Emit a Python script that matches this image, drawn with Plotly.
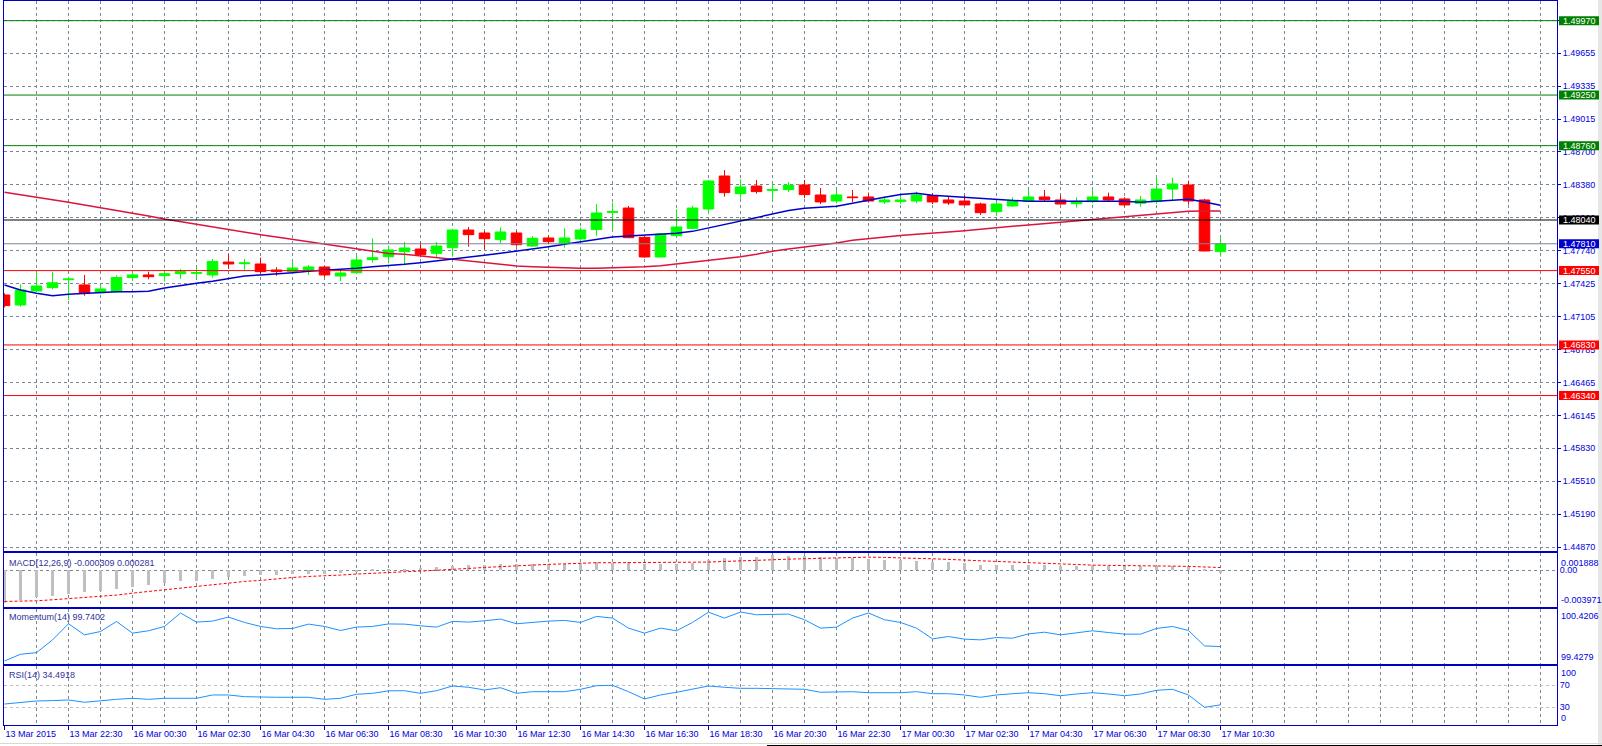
import plotly.graph_objects as go

# ---------------- data ----------------
time_labels = ["13 Mar 2015", "13 Mar 22:30", "16 Mar 00:30", "16 Mar 02:30", "16 Mar 04:30",
               "16 Mar 06:30", "16 Mar 08:30", "16 Mar 10:30", "16 Mar 12:30", "16 Mar 14:30",
               "16 Mar 16:30", "16 Mar 18:30", "16 Mar 20:30", "16 Mar 22:30", "17 Mar 00:30",
               "17 Mar 02:30", "17 Mar 04:30", "17 Mar 06:30", "17 Mar 08:30", "17 Mar 10:30"]

opens = [1.47314, 1.47217, 1.47353, 1.47385, 1.47462, 1.47411, 1.47336, 1.47346, 1.47482, 1.47508,
         1.47501, 1.47520, 1.47524, 1.47508, 1.47633, 1.47617, 1.47614, 1.47556, 1.47540, 1.47556,
         1.47585, 1.47498, 1.47530, 1.47656, 1.47685, 1.47733, 1.47759, 1.47717, 1.47772, 1.47943,
         1.47914, 1.47850, 1.47914, 1.47788, 1.47866, 1.47817, 1.47856, 1.47947, 1.48114, 1.48156,
         1.47872, 1.47682, 1.47888, 1.47959, 1.48147, 1.48466, 1.48295, 1.48369, 1.48327, 1.48334,
         1.48379, 1.48282, 1.48224, 1.48263, 1.48263, 1.48215, 1.48218, 1.48224, 1.48276, 1.48234,
         1.48224, 1.48195, 1.48121, 1.48176, 1.48221, 1.48263, 1.48234, 1.48198, 1.48218, 1.48263,
         1.48244, 1.48202, 1.48221, 1.48340, 1.48379, 1.48234, 1.47734]
highs = [1.47330, 1.47417, 1.47540, 1.47540, 1.47491, 1.47508, 1.47417, 1.47504, 1.47540, 1.47540,
         1.47556, 1.47566, 1.47582, 1.47662, 1.47711, 1.47662, 1.47675, 1.47582, 1.47637, 1.47604,
         1.47595, 1.47562, 1.47701, 1.47863, 1.47792, 1.47827, 1.47827, 1.47827, 1.47953, 1.47972,
         1.47934, 1.47969, 1.47934, 1.47885, 1.47892, 1.47959, 1.47969, 1.48195, 1.48208, 1.48176,
         1.47895, 1.47914, 1.48143, 1.48179, 1.48427, 1.48524, 1.48434, 1.48427, 1.48395, 1.48408,
         1.48428, 1.48350, 1.48331, 1.48331, 1.48305, 1.48266, 1.48273, 1.48315, 1.48299, 1.48273,
         1.48282, 1.48208, 1.48218, 1.48260, 1.48337, 1.48331, 1.48279, 1.48260, 1.48337, 1.48305,
         1.48260, 1.48273, 1.48453, 1.48450, 1.48421, 1.48244, 1.47872]
lows = [1.47194, 1.47201, 1.47346, 1.47369, 1.47265, 1.47307, 1.47330, 1.47336, 1.47449, 1.47466,
        1.47443, 1.47469, 1.47475, 1.47482, 1.47566, 1.47556, 1.47514, 1.47501, 1.47524, 1.47508,
        1.47488, 1.47449, 1.47517, 1.47627, 1.47620, 1.47614, 1.47679, 1.47675, 1.47685, 1.47782,
        1.47756, 1.47817, 1.47782, 1.47779, 1.47805, 1.47772, 1.47830, 1.47888, 1.47947, 1.47863,
        1.47675, 1.47679, 1.47879, 1.47950, 1.48105, 1.48266, 1.48247, 1.48295, 1.48234, 1.48311,
        1.48253, 1.48195, 1.48202, 1.48215, 1.48208, 1.48195, 1.48195, 1.48202, 1.48195, 1.48186,
        1.48182, 1.48089, 1.48079, 1.48166, 1.48215, 1.48221, 1.48189, 1.48160, 1.48202, 1.48224,
        1.48169, 1.48169, 1.48195, 1.48234, 1.48189, 1.47737, 1.47685]
closes = [1.47211, 1.47362, 1.47401, 1.47432, 1.47468, 1.47330, 1.47372, 1.47482, 1.47508, 1.47491,
          1.47520, 1.47540, 1.47530, 1.47637, 1.47614, 1.47624, 1.47540, 1.47540, 1.47575, 1.47585,
          1.47508, 1.47527, 1.47653, 1.47675, 1.47750, 1.47769, 1.47704, 1.47788, 1.47943, 1.47898,
          1.47859, 1.47924, 1.47801, 1.47863, 1.47830, 1.47866, 1.47943, 1.48108, 1.48121, 1.47869,
          1.47682, 1.47905, 1.47972, 1.48156, 1.48418, 1.48305, 1.48360, 1.48315, 1.48334, 1.48376,
          1.48286, 1.48215, 1.48282, 1.48257, 1.48224, 1.48234, 1.48234, 1.48282, 1.48215, 1.48205,
          1.48186, 1.48111, 1.48195, 1.48224, 1.48263, 1.48237, 1.48195, 1.48221, 1.48263, 1.48234,
          1.48186, 1.48234, 1.48340, 1.48389, 1.48224, 1.47740, 1.47810]

ma_fast = [1.47411, 1.47362, 1.47330, 1.47307, 1.47320, 1.47330, 1.47336, 1.47346, 1.47346, 1.47349,
           1.47382, 1.47408, 1.47427, 1.47446, 1.47475, 1.47498, 1.47508, 1.47517, 1.47530, 1.47543,
           1.47553, 1.47559, 1.47572, 1.47588, 1.47596, 1.47611, 1.47627, 1.47643, 1.47662, 1.47682,
           1.47698, 1.47717, 1.47737, 1.47759, 1.47782, 1.47805, 1.47830, 1.47853, 1.47875, 1.47885,
           1.47892, 1.47898, 1.47911, 1.47930, 1.47963, 1.48001, 1.48034, 1.48066, 1.48095, 1.48131,
           1.48153, 1.48160, 1.48173, 1.48202, 1.48234, 1.48260, 1.48286, 1.48299, 1.48279, 1.48270,
           1.48260, 1.48247, 1.48240, 1.48228, 1.48221, 1.48221, 1.48221, 1.48221, 1.48221, 1.48221,
           1.48221, 1.48211, 1.48221, 1.48228, 1.48240, 1.48215, 1.48182]
ma_slow = [1.48308, 1.48285, 1.48263, 1.48237, 1.48211, 1.48185, 1.48160, 1.48134, 1.48105, 1.48079,
           1.48050, 1.48024, 1.47995, 1.47969, 1.47947, 1.47924, 1.47898, 1.47876, 1.47853, 1.47830,
           1.47805, 1.47782, 1.47756, 1.47733, 1.47716, 1.47708, 1.47692, 1.47672, 1.47656, 1.47640,
           1.47624, 1.47608, 1.47595, 1.47588, 1.47582, 1.47575, 1.47572, 1.47572, 1.47575, 1.47582,
           1.47588, 1.47598, 1.47614, 1.47630, 1.47646, 1.47662, 1.47685, 1.47708, 1.47738, 1.47759,
           1.47779, 1.47795, 1.47818, 1.47843, 1.47860, 1.47872, 1.47889, 1.47902, 1.47911, 1.47924,
           1.47937, 1.47953, 1.47969, 1.47979, 1.47992, 1.48005, 1.48024, 1.48034, 1.48050, 1.48056,
           1.48073, 1.48085, 1.48102, 1.48115, 1.48124, 1.48127, 1.48127]

macd_main = [-0.00350, -0.00322, -0.00292, -0.00274, -0.00252, -0.00230, -0.00222, -0.00201, -0.00178, -0.00154,
             -0.00138, -0.00120, -0.00110, -0.00092, -0.00074, -0.00058, -0.00051, -0.00045, -0.00038, -0.00035,
             -0.00035, -0.00031, -0.00011, 0.00009, 0.00016, 0.00018, 0.00025, 0.00036, 0.00043, 0.00054,
             0.00054, 0.00072, 0.00065, 0.00072, 0.00072, 0.00072, 0.00080, 0.00091, 0.00085, 0.00091,
             0.00072, 0.00072, 0.00072, 0.00080, 0.00109, 0.00134, 0.00145, 0.00145, 0.00170, 0.00156,
             0.00156, 0.00145, 0.00138, 0.00134, 0.00127, 0.00116, 0.00109, 0.00101, 0.00091, 0.00091,
             0.00080, 0.00062, 0.00062, 0.00062, 0.00062, 0.00062, 0.00051, 0.00051, 0.00054, 0.00043,
             0.00043, 0.00043, 0.00043, 0.00043, 0.00043, 0.00014, -0.000309]
macd_signal = [-0.00340, -0.00340, -0.00333, -0.00322, -0.00311, -0.00300, -0.00289, -0.00271, -0.00250, -0.00231,
               -0.00217, -0.00195, -0.00174, -0.00156, -0.00137, -0.00123, -0.00112, -0.00094, -0.00080, -0.00069,
               -0.00065, -0.00054, -0.00043, -0.00033, -0.00022, -0.00018, -0.00011, -0.00004, 0.00007, 0.00018,
               0.00029, 0.00040, 0.00047, 0.00054, 0.00062, 0.00069, 0.00076, 0.00080, 0.00080, 0.00080,
               0.00080, 0.00080, 0.00080, 0.00083, 0.00087, 0.00094, 0.00098, 0.00101, 0.00112, 0.00119,
               0.00123, 0.00130, 0.00138, 0.00141, 0.00141, 0.00138, 0.00130, 0.00127, 0.00123, 0.00112,
               0.00109, 0.00101, 0.00094, 0.00087, 0.00080, 0.00069, 0.00065, 0.00058, 0.00054, 0.00051,
               0.00047, 0.00043, 0.00043, 0.00043, 0.00040, 0.00036, 0.000281]

momentum = [99.482, 99.603, 99.632, 99.861, 100.150, 99.951, 100.011, 100.191, 99.982, 100.024,
            100.102, 100.343, 100.180, 100.198, 100.270, 100.174, 100.102, 100.060, 100.066, 100.144,
            100.102, 100.029, 100.090, 100.102, 100.147, 100.144, 100.114, 100.090, 100.192, 100.180,
            100.204, 100.234, 100.150, 100.180, 100.198, 100.210, 100.174, 100.282, 100.252, 100.072,
            99.982, 100.072, 100.024, 100.174, 100.358, 100.252, 100.361, 100.312, 100.324, 100.324,
            100.222, 100.072, 100.090, 100.252, 100.343, 100.222, 100.174, 100.072, 99.879, 99.921,
            99.874, 99.861, 99.903, 99.891, 99.969, 99.999, 99.951, 99.982, 100.024, 99.993,
            99.964, 99.964, 100.066, 100.102, 100.029, 99.753, 99.7402]

rsi = [36.0, 39.1, 41.5, 42.1, 43.3, 39.1, 42.1, 44.5, 46.4, 44.5,
       46.4, 46.4, 46.4, 52.4, 52.4, 49.3, 48.2, 48.2, 48.2, 48.2,
       44.5, 46.4, 53.6, 55.4, 59.9, 60.2, 55.4, 60.2, 68.7, 66.4,
       61.5, 65.6, 55.4, 58.4, 58.4, 58.4, 62.7, 69.3, 70.0, 58.4,
       45.1, 52.4, 57.3, 62.7, 68.7, 66.4, 64.5, 64.5, 63.9, 64.5,
       62.7, 57.3, 58.4, 58.4, 56.5, 56.5, 56.5, 58.4, 54.7, 54.7,
       52.4, 48.2, 52.4, 54.7, 56.5, 54.7, 51.1, 54.2, 56.5, 54.2,
       51.1, 54.2, 60.9, 62.7, 52.4, 30.0, 34.49]

price_ticks = [1.49975, 1.49655, 1.49335, 1.49015, 1.48700, 1.48380, 1.48060, 1.47740, 1.47425,
               1.47105, 1.46785, 1.46465, 1.46145, 1.45830, 1.45510, 1.45190, 1.44870]

levels = [1.49970, 1.49250, 1.48760, 1.48040, 1.47810, 1.47550, 1.46830, 1.46340]
level_kinds = ["res", "res", "res", "pivot", "bid", "sup", "sup", "sup"]

macd_title = "MACD(12,26,9) -0.000309 0.000281"
mom_title = "Momentum(14) 99.7402"
rsi_title = "RSI(14) 34.4918"
macd_limits = [-0.003971, 0.001888]
mom_limits = [99.4279, 100.4206]
rsi_levels = [30, 70]

# ---------------- styles ----------------
W, H = 1602, 746
ML, MR, MT, MB = 4, 45, 1, 21
PW = W - ML - MR
PH = H - MT - MB
BORDER = "#0000C0"
LABEL = "#0000E0"
TITLE = "#333399"
GRID = "#778899"
FONT = "Liberation Sans, Arial, sans-serif"
kind_style = {
    "res": ("#008000", "#008000"),
    "pivot": ("#000000", "#000000"),
    "bid": ("#778899", "#0000CD"),
    "sup": ("#FF0000", "#FF0000"),
}


def dom(top_px, bot_px):
    return [(MT + PH - bot_px) / PH, (MT + PH - top_px) / PH]


n = len(opens)
x = list(range(n))
label_bars = list(range(0, n, 4))
grid_bars = list(range(0, 98, 2))
xrange = [(ML - 4.5) / 16.0, (ML + PW - 4.5) / 16.0]

fig = go.Figure()

fig.add_trace(go.Candlestick(
    x=x, open=opens, high=highs, low=lows, close=closes,
    increasing=dict(line=dict(color="#00FF00", width=1), fillcolor="#00FF00"),
    decreasing=dict(line=dict(color="#FF0000", width=1), fillcolor="#FF0000"),
    whiskerwidth=0, xaxis="x", yaxis="y", hoverinfo="skip"))
fig.add_trace(go.Scatter(x=x, y=ma_slow, mode="lines", line=dict(color="#DC143C", width=1.5),
                         xaxis="x", yaxis="y", hoverinfo="skip"))
fig.add_trace(go.Scatter(x=x, y=ma_fast, mode="lines", line=dict(color="#0000CD", width=1.5),
                         xaxis="x", yaxis="y", hoverinfo="skip"))

fig.add_trace(go.Bar(x=x, y=macd_main, base=0, width=0.13, marker=dict(color="#C0C0C0", line=dict(width=0)),
                     xaxis="x2", yaxis="y2", hoverinfo="skip"))
fig.add_trace(go.Scatter(x=x, y=macd_signal, mode="lines", line=dict(color="#FF0000", width=1, dash="3px,2px"),
                         xaxis="x2", yaxis="y2", hoverinfo="skip"))
fig.add_trace(go.Scatter(x=x, y=momentum, mode="lines", line=dict(color="#1E90FF", width=1),
                         xaxis="x3", yaxis="y3", hoverinfo="skip"))
fig.add_trace(go.Scatter(x=x, y=rsi, mode="lines", line=dict(color="#1E90FF", width=1),
                         xaxis="x4", yaxis="y4", hoverinfo="skip"))


def xaxis_cfg(anchor, labels=False):
    d = dict(anchor=anchor, range=xrange, domain=[0, 1], zeroline=False,
             showline=True, mirror=True, linecolor=BORDER, linewidth=1,
             tickmode="array", tickvals=label_bars, ticktext=time_labels,
             showgrid=True, gridcolor=GRID, griddash="3px,3px", gridwidth=1,
             minor=dict(tickmode="array", tickvals=grid_bars, showgrid=True, gridcolor=GRID,
                        griddash="3px,3px", gridwidth=1, ticks=""),
             fixedrange=True, showticklabels=labels)
    if labels:
        d.update(ticks="outside", ticklen=4, tickcolor=BORDER, tickwidth=1,
                 ticklabelposition="outside right", tickfont=dict(family=FONT, size=9, color=LABEL))
    else:
        d.update(ticks="")
    return d


ycommon = dict(side="right", zeroline=False, showline=True, mirror=True, linecolor=BORDER,
               linewidth=1, fixedrange=True, tickfont=dict(family=FONT, size=9, color=LABEL))

main_top, main_bot = MT, 551
macd_top, macd_bot = 552.7, 606.7
mom_top, mom_bot = 608.7, 664
rsi_top, rsi_bot = 666, MT + PH

px_per_price = 1.0 / 0.00009684
main_range = [1.48040 - (main_bot - 220) / px_per_price, 1.48040 + (220 - main_top) / px_per_price]
rsi_px = 0.55
rsi_range = [0 - (rsi_bot - 723.8) / rsi_px, 100 + (668.8 - rsi_top) / rsi_px]

fig.update_layout(
    width=W, height=H, margin=dict(l=ML, r=MR, t=MT, b=MB),
    paper_bgcolor="white", plot_bgcolor="white", showlegend=False,
    hovermode=False, boxgap=0.34, boxgroupgap=0, bargap=0,
    font=dict(family=FONT, size=9, color=LABEL),
    xaxis=dict(**xaxis_cfg("y"), rangeslider=dict(visible=False)),
    xaxis2=xaxis_cfg("y2"),
    xaxis3=xaxis_cfg("y3"),
    xaxis4=xaxis_cfg("y4", labels=True),
    yaxis=dict(**ycommon, domain=dom(main_top, main_bot), range=main_range,
               tickmode="array", tickvals=price_ticks, ticktext=[f"{v:.5f}" for v in price_ticks],
               showgrid=True, gridcolor=GRID, griddash="3px,3px", gridwidth=1,
               ticks="outside", ticklen=3, tickcolor=BORDER),
    yaxis2=dict(**ycommon, domain=dom(macd_top, macd_bot), range=macd_limits,
                tickmode="array", tickvals=[0], ticktext=["0.00"],
                showgrid=True, gridcolor=GRID, griddash="3px,3px", gridwidth=1, ticks=""),
    yaxis3=dict(**ycommon, domain=dom(mom_top, mom_bot), range=mom_limits,
                showticklabels=False, showgrid=False, ticks=""),
    yaxis4=dict(**ycommon, domain=dom(rsi_top, rsi_bot), range=rsi_range,
                tickmode="array", tickvals=rsi_levels, ticktext=[str(v) for v in rsi_levels],
                showgrid=True, gridcolor="#C0C0C0", griddash="3px,3px", gridwidth=1, ticks=""),
)

shapes = []
annotations = []
box_x0 = 1 + 2.0 / PW
box_x1 = 1 + 42.0 / PW
for lv, kind in zip(levels, level_kinds):
    lc, bc = kind_style[kind]
    shapes.append(dict(type="line", xref="paper", yref="y", x0=0, x1=1, y0=lv, y1=lv,
                       line=dict(color=lc, width=1), layer="above"))
    shapes.append(dict(type="rect", xref="paper", yref="y", ysizemode="pixel", yanchor=lv,
                       x0=box_x0, x1=box_x1, y0=-4.5, y1=4.5, fillcolor=bc,
                       line=dict(width=0), layer="above"))
    annotations.append(dict(xref="paper", yref="y", x=1, y=lv, xanchor="left", yanchor="middle",
                            xshift=5, text=f"{lv:.5f}", showarrow=False, borderpad=0,
                            font=dict(family=FONT, size=9, color="white")))

# window edges
shapes.append(dict(type="rect", xref="paper", yref="paper", x0=1 + 41.0 / PW, x1=1 + 46.0 / PW,
                   y0=-0.05, y1=1.01, fillcolor="#E6E6E6", line=dict(width=0), layer="below"))
shapes.append(dict(type="line", xref="paper", yref="paper", x0=-0.01, x1=1.04,
                   y0=(MT + PH - 743.5) / PH, y1=(MT + PH - 743.5) / PH,
                   line=dict(color="#D8D8D8", width=1)))
shapes.append(dict(type="line", xref="paper", yref="paper", x0=(767 - ML) / PW, x1=1.04,
                   y0=(MT + PH - 745.5) / PH, y1=(MT + PH - 745.5) / PH,
                   line=dict(color="#000000", width=1)))


def side_label(text, yref, top, shift):
    annotations.append(dict(xref="paper", yref=yref, x=1, y=1 if top else 0,
                            xanchor="left", yanchor="top" if top else "bottom",
                            xshift=3, yshift=shift, text=text, showarrow=False, borderpad=0,
                            font=dict(family=FONT, size=9, color=LABEL)))


side_label(f"{macd_limits[1]:.6f}", "y2 domain", True, -4)
side_label(f"{macd_limits[0]:.6f}", "y2 domain", False, 1)
side_label(f"{mom_limits[1]:.4f}", "y3 domain", True, -1)
side_label(f"{mom_limits[0]:.4f}", "y3 domain", False, 1)
side_label("100", "y4 domain", True, -1)
side_label("0", "y4 domain", False, 1)

for text, yref, shift in [(macd_title, "y2 domain", -4), (mom_title, "y3 domain", -2),
                          (rsi_title, "y4 domain", -3)]:
    annotations.append(dict(xref="paper", yref=yref, x=0, y=1, xanchor="left", yanchor="top",
                            xshift=4, yshift=shift, text=text, showarrow=False, borderpad=0,
                            font=dict(family=FONT, size=9, color=TITLE)))

fig.update_layout(shapes=shapes, annotations=annotations)

fig.write_html("out.html", config={"displayModeBar": False},
               post_script="document.body.style.margin='0px';document.body.style.overflow='hidden';")
